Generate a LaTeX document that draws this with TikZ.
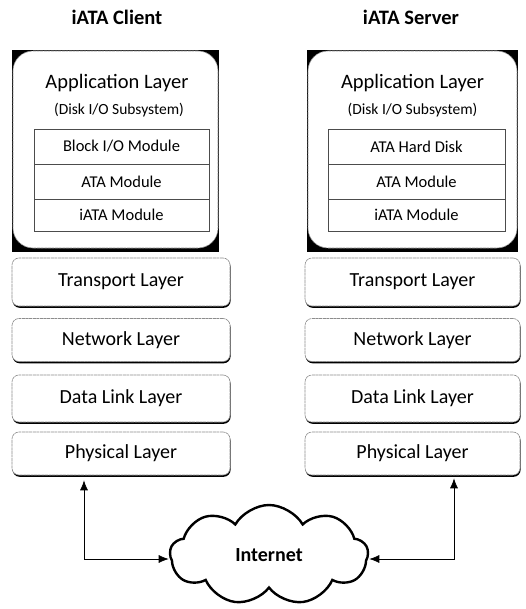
\documentclass[tikz,border=0pt]{standalone}
\usepackage{fontspec}
\setmainfont{Carlito}
\usetikzlibrary{shapes.symbols,shadows,arrows.meta}
\begin{document}
\begin{tikzpicture}[x=1pt,y=1pt,
  title/.style={font=\fontsize{20.5}{23}\selectfont\bfseries},
  layerbox/.style={draw=black!45, line width=0.6pt, dash pattern=on 3pt off 0.6pt, fill=white, rounded corners=7pt,
    drop shadow={shadow xshift=0.6pt, shadow yshift=-1.8pt, fill=black, opacity=1},
    minimum width=218pt, inner sep=0pt, font=\fontsize{20}{23}\selectfont},
  appbox/.style={draw=black!45, line width=0.6pt, dash pattern=on 3pt off 0.6pt, fill=white, rounded corners=20pt,
    inner sep=0pt},
  modbox/.style={draw=black!70, line width=0.6pt, fill=white, inner sep=0pt, minimum width=175pt,
    font=\fontsize{16.5}{19}\selectfont},
  applbl/.style={font=\fontsize{20.5}{24}\selectfont},
  sublbl/.style={font=\fontsize{15.5}{18}\selectfont},
  conn/.style={line width=0.7pt, {Latex[length=10pt,width=8pt]}-{Latex[length=10pt,width=8pt]}}
]
\useasboundingbox (0,0) rectangle (525,-609);

% titles
\node[title] (tc) at (117,-17) {iATA Client};
\node[title] (ts) at (411,-17) {iATA Server};

% ---------- client application layer ----------
\fill[black] (12,-50) rectangle (219,-252);
\node[appbox, minimum width=205pt, minimum height=197pt] (capp) at (115.5,-149.5) {};
\node[applbl] (capl) at (117,-83) {Application Layer};
\node[sublbl] (csub) at (119,-110) {(Disk I/O Subsystem)};
\node[modbox, minimum height=35pt] (cm1) at (121.5,-146.5) {Block I/O Module};
\node[modbox, minimum height=35pt] (cm2) at (121.5,-181.5) {ATA Module};
\node[modbox, minimum height=32pt] (cm3) at (121.5,-215) {iATA Module};

% ---------- server application layer ----------
\fill[black] (307,-50) rectangle (518,-252);
\node[appbox, minimum width=209pt, minimum height=197pt] (sapp) at (412.5,-149.5) {};
\node[applbl] (sapl) at (412.5,-83) {Application Layer};
\node[sublbl] (ssub) at (412.5,-110) {(Disk I/O Subsystem)};
\node[modbox, minimum width=177pt, minimum height=35pt] (sm1) at (416.5,-146.5) {ATA Hard Disk};
\node[modbox, minimum width=177pt, minimum height=35pt] (sm2) at (416.5,-181.5) {ATA Module};
\node[modbox, minimum width=177pt, minimum height=32pt] (sm3) at (416.5,-215) {iATA Module};

% ---------- client lower layers ----------
\node[layerbox, minimum height=48pt] (ctr) at (121,-282) {Transport Layer};
\node[layerbox, minimum height=43pt] (cnw) at (121,-340) {Network Layer};
\node[layerbox, minimum height=47pt] (cdl) at (121,-398.5) {Data Link Layer};
\node[layerbox, minimum height=43pt] (cph) at (121,-453.5) {Physical Layer};

% ---------- server lower layers ----------
\node[layerbox, minimum width=215pt, minimum height=48pt] (str) at (412.5,-282) {Transport Layer};
\node[layerbox, minimum width=215pt, minimum height=43pt] (snw) at (412.5,-340) {Network Layer};
\node[layerbox, minimum width=215pt, minimum height=47pt] (sdl) at (412.5,-398.5) {Data Link Layer};
\node[layerbox, minimum width=215pt, minimum height=43pt] (sph) at (412.5,-453.5) {Physical Layer};

% ---------- internet cloud ----------
\node[cloud, cloud puffs=9, cloud puff arc=120, aspect=2.0, draw=black, line width=2.4pt,
  minimum width=198pt, minimum height=100pt, inner sep=0pt,
  font=\fontsize{20}{23}\selectfont\bfseries] (inet) at (269,-555) {Internet};

% ---------- connectors ----------
\coordinate (lx) at (84,-559);
\coordinate (rx) at (454,-559);
\draw[conn, shorten <=5pt] (cph.south -| lx) -- (lx) -- (inet.west |- lx);
\draw[conn, shorten <=3pt] (sph.south -| rx) -- (rx) -- (inet.east |- rx);
\end{tikzpicture}
\end{document}
